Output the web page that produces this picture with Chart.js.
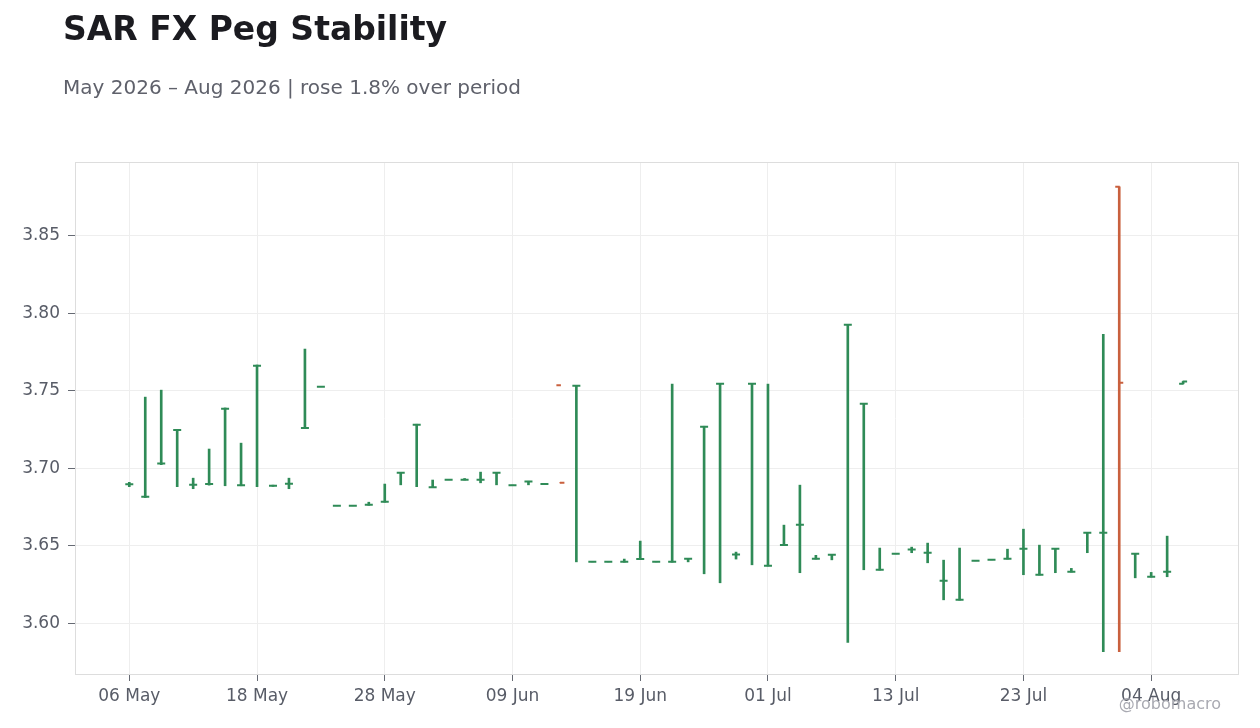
<!DOCTYPE html>
<html>
<head>
<meta charset="utf-8">
<script src="https://cdn.jsdelivr.net/npm/chart.js@4.4.1/dist/chart.umd.min.js"></script>
<style>
  html, body { margin: 0; padding: 0; background: #ffffff; }
  body { width: 1260px; height: 728px; position: relative; overflow: hidden; font-family: "DejaVu Sans", sans-serif; }
  #wrap { position: absolute; left: 0; top: 0; width: 1260px; height: 728px; }
  .title { position: absolute; left: 63px; top: 12px; font-size: 33px; line-height: 33px; font-weight: bold; color: #1b1b20; white-space: nowrap; }
  .subtitle { position: absolute; left: 63px; top: 77px; font-size: 20px; line-height: 20px; color: #5f616b; white-space: nowrap; }
  .credit { position: absolute; right: 39px; top: 696px; font-size: 16px; line-height: 16px; color: #a9aab2; white-space: nowrap; }
</style>
</head>
<body>
<div id="wrap"><canvas id="peg-chart"></canvas></div>
<div class="title">SAR FX Peg Stability</div>
<div class="subtitle">May 2026 – Aug 2026 | rose 1.8% over period</div>
<div class="credit">@robomacro</div>
<script>
// trading days (one bar each)
var dates = [
  "06 May", "07 May", "08 May", "11 May", "12 May", "13 May", "14 May", "15 May", "18 May", "19 May",
  "20 May", "21 May", "22 May", "25 May", "26 May", "27 May", "28 May", "29 May",
  "01 Jun", "02 Jun", "03 Jun", "04 Jun", "05 Jun", "08 Jun", "09 Jun", "10 Jun", "11 Jun", "12 Jun",
  "15 Jun", "16 Jun", "17 Jun", "18 Jun", "19 Jun", "22 Jun", "23 Jun", "24 Jun", "25 Jun", "26 Jun",
  "29 Jun", "30 Jun",
  "01 Jul", "02 Jul", "03 Jul", "06 Jul", "07 Jul", "08 Jul", "09 Jul", "10 Jul", "13 Jul", "14 Jul",
  "15 Jul", "16 Jul", "17 Jul", "20 Jul", "21 Jul", "22 Jul", "23 Jul", "24 Jul", "27 Jul", "28 Jul",
  "29 Jul", "30 Jul", "31 Jul",
  "03 Aug", "04 Aug", "05 Aug", "06 Aug"
];
var openValues = [
  3.6895, 3.6815, 3.7030, 3.7245, 3.6893, 3.6897, 3.7383, 3.6890, 3.7660, 3.6886,
  3.6899, 3.7258, 3.7525, 3.6757, 3.6757, 3.6763, 3.6783, 3.6970, 3.7280, 3.6877,
  3.6925, 3.6925, 3.6925, 3.6970, 3.6890, 3.6914, 3.6897, 3.7535, 3.7531, 3.6395,
  3.6395, 3.6395, 3.6413, 3.6395, 3.6395, 3.6415, 3.7267, 3.7544, 3.6443, 3.7544,
  3.6370, 3.6503, 3.6634, 3.6415, 3.6441, 3.7925, 3.7415, 3.6344, 3.6447, 3.6475,
  3.6454, 3.6273, 3.6150, 3.6402, 3.6408, 3.6415, 3.6479, 3.6312, 3.6479, 3.6331,
  3.6583, 3.6583, 3.8815, 3.6447, 3.6299, 3.6331, 3.7544
];
var highValues = [
  3.6908, 3.7458, 3.7503, 3.7250, 3.6935, 3.7123, 3.7388, 3.7161, 3.7665, 3.6890,
  3.6935, 3.7768, 3.7525, 3.6757, 3.6757, 3.6780, 3.6897, 3.6972, 3.7283, 3.6923,
  3.6925, 3.6933, 3.6974, 3.6972, 3.6890, 3.6915, 3.6897, 3.6905, 3.7533, 3.6395,
  3.6395, 3.6413, 3.6529, 3.6395, 3.7542, 3.6417, 3.7270, 3.7547, 3.6458, 3.7547,
  3.7542, 3.6632, 3.6890, 3.6437, 3.6443, 3.7928, 3.7418, 3.6484, 3.6447, 3.6490,
  3.6516, 3.6406, 3.6484, 3.6402, 3.6408, 3.6477, 3.6606, 3.6503, 3.6481, 3.6353,
  3.6585, 3.7863, 3.8815, 3.6450, 3.6327, 3.6561, 3.7559
];
var lowValues = [
  3.6880, 3.6810, 3.7022, 3.6880, 3.6867, 3.6890, 3.6886, 3.6886, 3.6880, 3.6882,
  3.6867, 3.7255, 3.7525, 3.6757, 3.6757, 3.6760, 3.6780, 3.6892, 3.6880, 3.6875,
  3.6925, 3.6923, 3.6905, 3.6892, 3.6890, 3.6892, 3.6897, 3.6905, 3.6395, 3.6395,
  3.6395, 3.6393, 3.6410, 3.6395, 3.6393, 3.6395, 3.6318, 3.6260, 3.6413, 3.6376,
  3.6368, 3.6500, 3.6325, 3.6413, 3.6408, 3.5875, 3.6344, 3.6342, 3.6447, 3.6454,
  3.6389, 3.6150, 3.6148, 3.6402, 3.6408, 3.6413, 3.6312, 3.6310, 3.6325, 3.6329,
  3.6454, 3.5815, 3.5815, 3.6292, 3.6297, 3.6299, 3.7544
];
var closeValues = [
  3.6895, 3.6815, 3.7030, 3.7245, 3.6893, 3.6897, 3.7383, 3.6890, 3.7660, 3.6886,
  3.6899, 3.7258, 3.7525, 3.6757, 3.6757, 3.6763, 3.6783, 3.6970, 3.7280, 3.6877,
  3.6925, 3.6925, 3.6925, 3.6970, 3.6890, 3.6914, 3.6897, 3.6905, 3.7531, 3.6395,
  3.6395, 3.6395, 3.6413, 3.6395, 3.6395, 3.6415, 3.7267, 3.7544, 3.6443, 3.7544,
  3.6370, 3.6503, 3.6634, 3.6415, 3.6441, 3.7925, 3.7415, 3.6344, 3.6447, 3.6475,
  3.6454, 3.6273, 3.6150, 3.6402, 3.6408, 3.6415, 3.6479, 3.6312, 3.6479, 3.6331,
  3.6583, 3.6583, 3.7550, 3.6447, 3.6299, 3.6331, 3.7559
];

var upColor = "#2f8b57";
var downColor = "#c9603e";

Chart.defaults.font.family = "'DejaVu Sans', sans-serif";
Chart.defaults.color = "#585c67";

var barColors = closeValues.map(function (c, i) {
  return c >= openValues[i] ? upColor : downColor;
});

// high-low wicks as floating bars
var wickData = dates.map(function (d, i) {
  return { x: i, y: [lowValues[i], highValues[i]] };
});

// frame round the plot area
var framePlugin = {
  id: "frame",
  beforeDatasetsDraw: function (chart) {
    var a = chart.chartArea;
    var ctx = chart.ctx;
    ctx.save();
    ctx.strokeStyle = "#dddddd";
    ctx.lineWidth = 1;
    ctx.strokeRect(a.left + 0.5, a.top + 0.5, a.right - a.left - 1, a.bottom - a.top - 1);
    ctx.restore();
  }
};

// open tick to the left, close tick to the right
var ohlcTicks = {
  id: "ohlcTicks",
  afterDatasetsDraw: function (chart) {
    var xs = chart.scales.x;
    var ys = chart.scales.y;
    var ctx = chart.ctx;
    ctx.save();
    ctx.lineWidth = 2;
    ctx.lineCap = "butt";
    for (var i = 0; i < dates.length; i++) {
      var px = xs.getPixelForValue(i);
      var yo = ys.getPixelForValue(openValues[i]);
      var yc = ys.getPixelForValue(closeValues[i]);
      ctx.strokeStyle = barColors[i];
      ctx.beginPath();
      ctx.moveTo(px - 4, yo);
      ctx.lineTo(px + 0.5, yo);
      ctx.moveTo(px - 0.5, yc);
      ctx.lineTo(px + 4, yc);
      ctx.stroke();
    }
    ctx.restore();
  }
};

var ctx = document.getElementById("peg-chart").getContext("2d");
var pegChart = new Chart(ctx, {
  type: "bar",
  data: {
    datasets: [
      {
        label: "SAR",
        data: wickData,
        backgroundColor: barColors,
        borderWidth: 0,
        barThickness: 2,
      },
    ],
  },
  options: {
    responsive: true,
    maintainAspectRatio: false,
    animation: false,
    layout: { padding: { top: 162, right: 21, left: 0, bottom: 0 } },
    plugins: {
      legend: { display: false },
      tooltip: { enabled: false },
    },
    scales: {
      x: {
        type: "linear",
        offset: false,
        min: -3.4,
        max: 69.5,
        grid: { color: "#eeeeee", offset: false, tickLength: 6, tickColor: "#666a73" },
        border: { display: false },
        ticks: {
          stepSize: 8,
          includeBounds: false,
          padding: 5,
          maxRotation: 0,
          autoSkip: false,
          font: { size: 17 },
          callback: function (value) {
            return dates[value];
          },
        },
        afterFit: function (scale) {
          scale.height = 53;
        },
      },
      y: {
        min: 3.5665,
        max: 3.8975,
        grid: { color: "#eeeeee", tickLength: 7, tickColor: "#666a73" },
        border: { display: false },
        ticks: {
          stepSize: 0.05,
          includeBounds: false,
          padding: 8,
          font: { size: 17 },
          callback: function (value) {
            return value.toFixed(2);
          },
        },
        afterFit: function (scale) {
          scale.width = 75;
        },
      },
    },
  },
  plugins: [framePlugin, ohlcTicks],
});
</script>
</body>
</html>
